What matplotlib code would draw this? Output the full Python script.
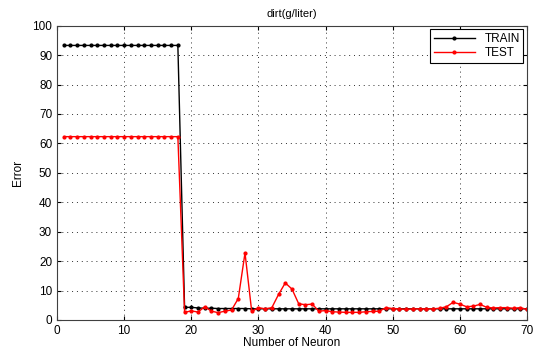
import matplotlib
matplotlib.use("Agg")
import matplotlib.pyplot as plt
import numpy as np

plt.rcParams['font.family'] = ['Liberation Sans', 'DejaVu Sans']

neurons = list(range(1, 71))
train = [93.3] * 18 + [4.3, 4.3, 4.1, 4.0, 4.0, 3.9, 3.9, 3.9, 3.9, 3.9, 3.8, 3.8,
                       3.8, 3.8, 3.8, 3.8, 3.8, 3.8, 3.8, 3.8, 3.8, 3.8, 3.8, 3.8,
                       3.8, 3.8, 3.8, 3.8, 3.8, 3.8, 3.8, 3.8, 3.8, 3.8, 3.8, 3.8,
                       3.8, 3.8, 3.8, 3.8, 3.8, 3.8, 3.8, 3.8, 3.8, 3.8, 3.8, 3.8,
                       3.8, 3.8, 3.8, 3.8]
test = [62.3] * 18 + [2.6, 3.1, 2.7, 4.5, 3.0, 2.5, 3.0, 3.4, 7.3, 22.8,
                      2.9, 4.2, 3.8, 4.2, 8.7, 12.6, 10.5, 5.5, 5.2, 5.4,
                      3.0, 3.2, 2.8, 2.7, 2.6, 2.6, 2.6, 2.8, 2.9, 3.0,
                      4.2, 3.9, 3.8, 3.6, 3.8, 3.8, 3.8, 3.8, 4.0, 4.5,
                      6.0, 5.4, 4.5, 4.7, 5.3, 4.3, 4.1, 4.2, 4.2, 4.0,
                      4.2, 3.6]

xticks = [0, 10, 20, 30, 40, 50, 60, 70]
yticks = [0, 10, 20, 30, 40, 50, 60, 70, 80, 90, 100]

fig = plt.figure(figsize=(5.34, 3.52), dpi=100)
ax = fig.add_axes([57/534, 1-320/352, (527-57)/534, (320-25.7)/352])

ax.plot(neurons, train, color='black', marker='.', markersize=4, linewidth=1, label='TRAIN')
ax.plot(neurons, test, color='red', marker='.', markersize=4, linewidth=1, label='TEST')

ax.set_xlim(0, 70)
ax.set_ylim(0, 100)
ax.set_xticks(xticks)
ax.set_yticks(yticks)
ax.grid(True, linestyle=(0, (1, 4)), color='#303030', linewidth=0.7)
ax.tick_params(direction='in', labelsize=8.5, length=3, top=True, right=True)
for s in ax.spines.values():
    s.set_linewidth(0.8)
    s.set_color('#404040')

ax.set_title('dirt(g/liter)', fontsize=8, pad=6)
ax.set_xlabel('Number of Neuron', fontsize=8.5, labelpad=0)
ax.set_ylabel('Error', fontsize=8.5, labelpad=6)

leg = ax.legend(loc='upper right', fontsize=8.5, fancybox=False, framealpha=1,
                edgecolor='black', borderaxespad=0.3, handlelength=3.5,
                borderpad=0.3, labelspacing=0.2)
leg.get_frame().set_linewidth(0.8)

fig.savefig('out.png', dpi=100)
